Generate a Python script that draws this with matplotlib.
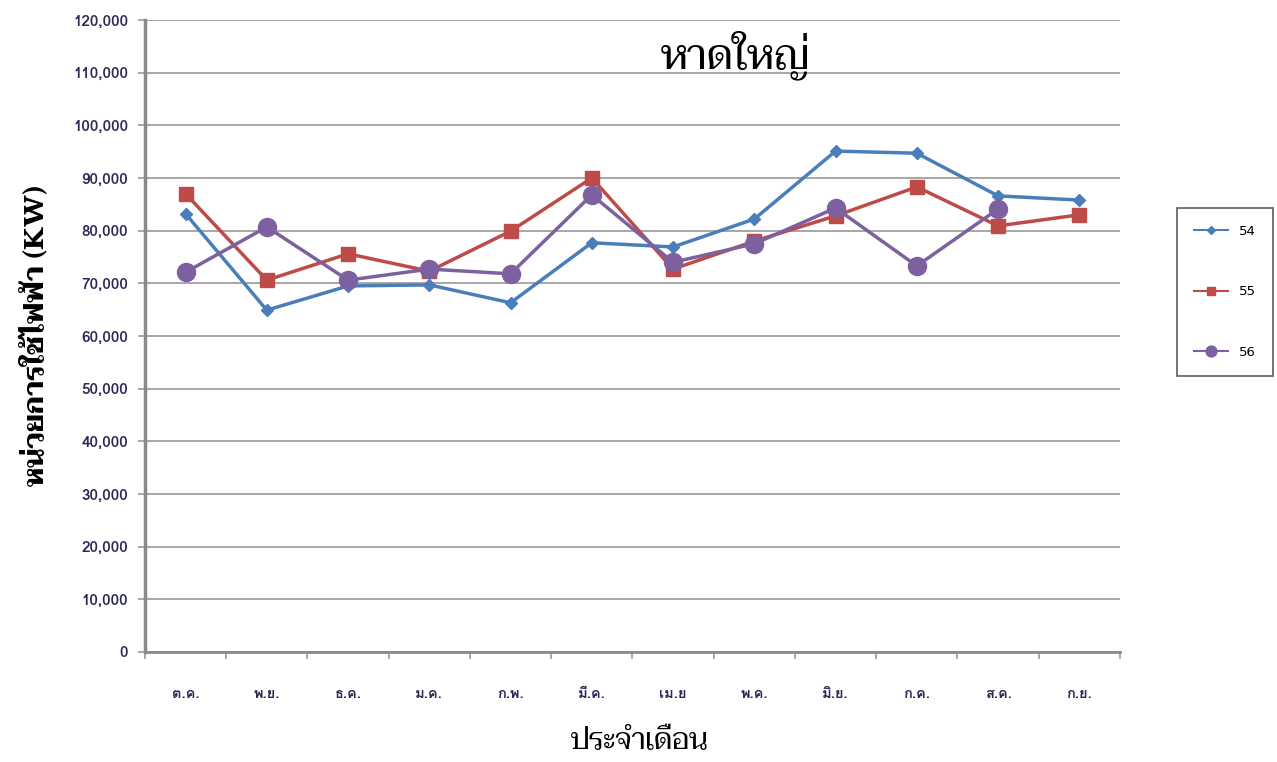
import matplotlib
matplotlib.use('Agg')
import matplotlib.pyplot as plt
from matplotlib.ticker import FuncFormatter, FixedLocator
import numpy as np

# monthly electricity units, fiscal year Oct - Sep
months = ['ต.ค.', 'พ.ย.', 'ธ.ค.', 'ม.ค.', 'ก.พ.', 'มี.ค.', 'เม.ย',
          'พ.ค.', 'มิ.ย.', 'ก.ค.', 'ส.ค.', 'ก.ย.']
y54 = [83200, 64900, 69500, 69700, 66300, 77700, 76900, 82200, 95100, 94700, 86600, 85800]
y55 = [87000, 70600, 75600, 72300, 79900, 90000, 72700, 78000, 82800, 88300, 80900, 83000]
y56 = [72100, 80700, 70600, 72700, 71800, 86800, 74000, 77500, 84300, 73300, 84100]

thai_tick = ['Loma', 'DejaVu Sans']
thai_serif = ['Taviraj', 'Trirong', 'DejaVu Serif']

fig = plt.figure(figsize=(12.77, 7.62), dpi=100)
ax = fig.add_axes([0.1135, 0.1444, 0.7635, 0.8294])

x = np.arange(len(months))
ax.plot(x, y54, color='#4a7ebb', lw=2.5, marker='D', ms=6.5, label='54', zorder=3)
ax.plot(x, y55, color='#be4b48', lw=2.5, marker='s', ms=10, label='55', zorder=3)
ax.plot(x[:len(y56)], y56, color='#7d60a0', lw=2.5, marker='o', ms=13, label='56', zorder=4)

ax.set_xlim(-0.5, 11.5)
ax.set_ylim(0, 120000)
ax.set_yticks(np.arange(0, 120001, 10000))
ax.yaxis.set_major_formatter(FuncFormatter(lambda v, p: '{:,.0f}'.format(v)))
ax.grid(axis='y', color='#a0a0a0', lw=1.3)
ax.set_axisbelow(True)

ax.set_xticks(x)
ax.set_xticklabels(months, family=thai_tick, fontsize=10.5, weight='bold', color='#2a2a55')
ax.xaxis.set_minor_locator(FixedLocator(np.arange(-0.5, 12, 1)))
ax.tick_params(axis='x', which='major', length=0, pad=25)
ax.tick_params(axis='x', which='minor', length=5, width=1.2, color='#999999', direction='out')
ax.tick_params(axis='y', length=5, width=1.2, color='#999999', pad=7)
for lbl in ax.get_yticklabels():
    lbl.set_family(thai_tick)
    lbl.set_fontsize(11)
    lbl.set_weight('bold')
    lbl.set_color('#2a2a55')

for s in ['top', 'right']:
    ax.spines[s].set_visible(False)
ax.spines['left'].set_color('#8a8a8a')
ax.spines['left'].set_linewidth(2.5)
ax.spines['bottom'].set_color('#8a8a8a')
ax.spines['bottom'].set_linewidth(2)

fig.text(0.576, 0.928, 'หาดใหญ่', family=thai_serif, fontsize=30,
         ha='center', va='center')
fig.text(0.028, 0.56, 'หน่วยการใช้ไฟฟ้า (KW)', family=thai_serif, fontsize=20,
         weight='bold', rotation=90, ha='center', va='center')
fig.text(0.501, 0.027, 'ประจำเดือน', family=thai_serif, fontsize=21,
         ha='center', va='center')

leg = fig.legend(loc='center', bbox_to_anchor=(0.959, 0.617), ncol=1,
                 frameon=True, fancybox=False, fontsize=9.5, labelspacing=3.6,
                 handlelength=2.6, borderpad=1.3, markerscale=0.6)
leg.get_frame().set_edgecolor('#333333')
leg.get_frame().set_linewidth(1.2)
for line in leg.get_lines():
    line.set_linewidth(1.5)

fig.savefig('out.png', dpi=100)
